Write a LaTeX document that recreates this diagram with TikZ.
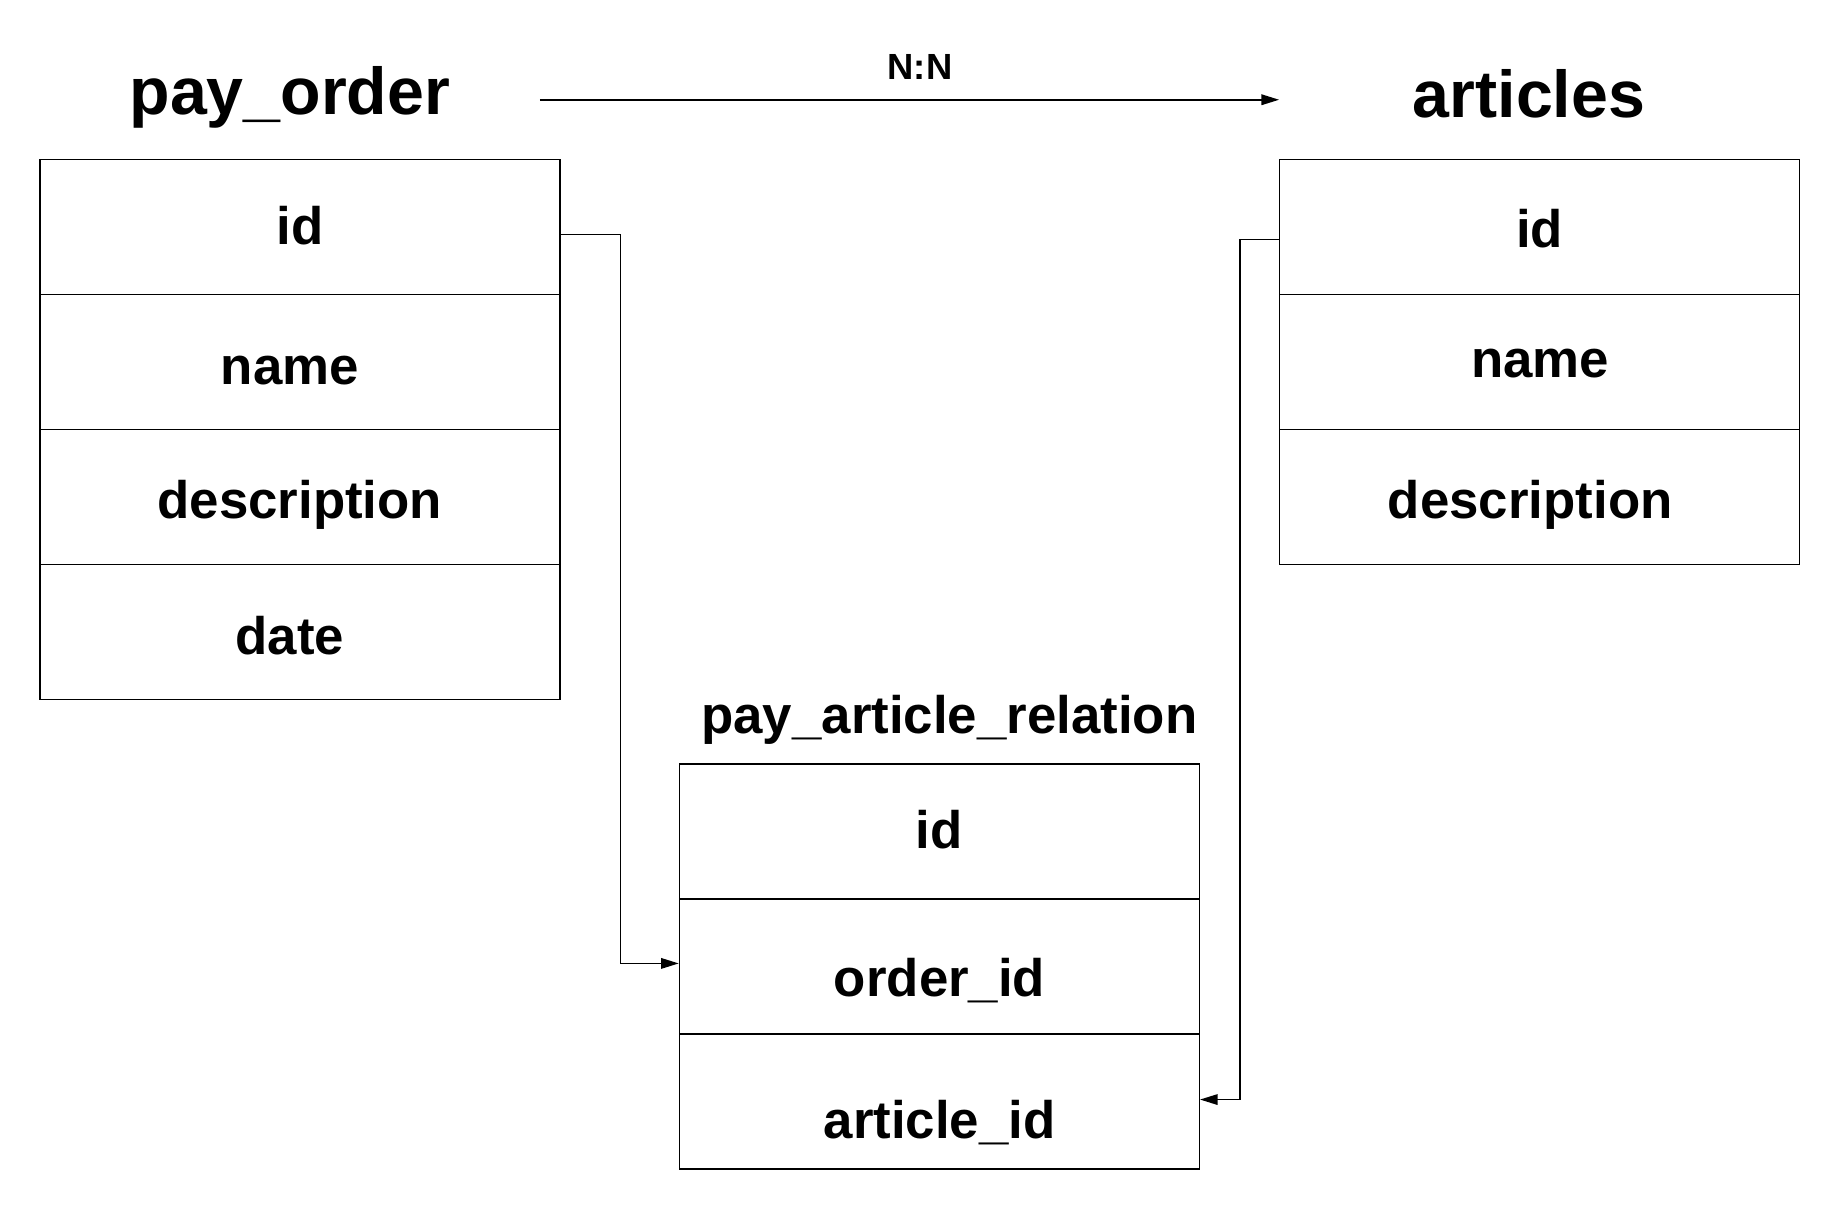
\documentclass[tikz,border=0pt]{standalone}
\usepackage{fontspec}
\setmainfont{Liberation Sans}
\usetikzlibrary{arrows.meta}
\begin{document}
\begin{tikzpicture}[x=1pt,y=-1pt,
  rowbox/.style={draw=black,line width=1.3pt,minimum width=443pt,minimum height=115pt,inner sep=0pt},
  field/.style={anchor=base,inner sep=0pt,font=\fontsize{45}{54}\selectfont\bfseries},
  maintitle/.style={anchor=base,font=\fontsize{56.5}{66}\selectfont\bfseries,inner sep=0pt},
  subtitle/.style={anchor=base,font=\fontsize{45}{54}\selectfont\bfseries,inner sep=0pt},
  conn/.style={line width=1.3pt,-{Triangle[length=15pt,width=9pt]}}]
\useasboundingbox[fill=white] (0,0) rectangle (1568,1030);
% pay_order
\node[maintitle] (potitle) at (247,98) {pay\_order};
\node[rowbox] (po1) at (255.5,193.5) {};
\node[rowbox] (po2) at (255.5,308.5) {};
\node[rowbox] (po3) at (255.5,423.5) {};
\node[rowbox] (po4) at (255.5,538.5) {};
\node[field] (po1t) at (256,208.5) {id};
\node[field] (po2t) at (247,328) {name};
\node[field] (po3t) at (255.5,441.5) {description};
\node[field] (po4t) at (247,558) {date};
% articles
\node[maintitle] (artitle) at (1303,100) {articles};
\node[rowbox] (ar1) at (1312,193.5) {};
\node[rowbox] (ar2) at (1312,308.5) {};
\node[rowbox] (ar3) at (1312,423.5) {};
\node[field] (ar1t) at (1312,211) {id};
\node[field] (ar2t) at (1312.5,321.5) {name};
\node[field] (ar3t) at (1304,441.5) {description};
% pay_article_relation
\node[subtitle] (reltitle) at (809,625) {pay\_article\_relation};
\node[rowbox] (rel1) at (800.5,708.5) {};
\node[rowbox] (rel2) at (800.5,823.5) {};
\node[rowbox] (rel3) at (800.5,938.5) {};
\node[field] (rel1t) at (800.5,723) {id};
\node[field] (rel2t) at (800.7,849) {order\_id};
\node[field] (rel3t) at (800.7,970) {article\_id};
% N:N arrow
\coordinate (nnA) at (460,85);
\coordinate (nnB) at (1090,85);
\draw[conn] (nnA) -- (nnB);
\node[anchor=base,inner sep=0pt,font=\fontsize{31}{36}\selectfont\bfseries] (nnlabel) at (784,68) {N:N};
% connectors
\draw[conn] ([yshift=-6.5pt]po1.east) -- ++(51,0) |- ([yshift=2.5pt]rel2.west);
\draw[conn] ([yshift=-10.5pt]ar1.west) -- ++(-33,0) |- ([yshift=1.5pt]rel3.east);
\end{tikzpicture}
\end{document}
